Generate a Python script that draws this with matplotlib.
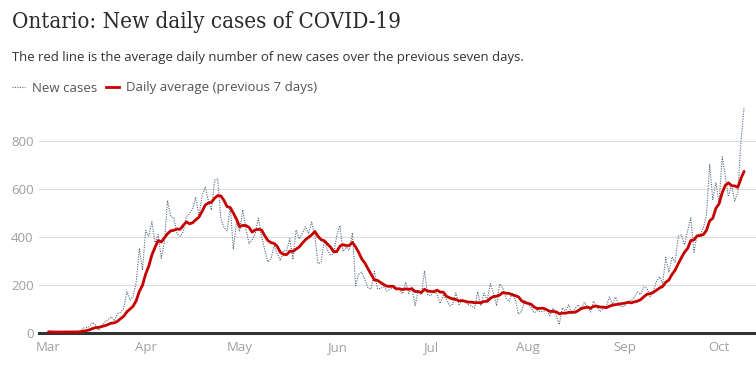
import numpy as np
import pandas as pd
import matplotlib
matplotlib.use("Agg")
import matplotlib.pyplot as plt
import matplotlib.dates as mdates
from matplotlib.lines import Line2D

# Daily new cases in Ontario, 1 Mar - 9 Oct 2020
mar = [3, 2, 1, 2, 3, 3, 1, 4, 2, 2,
       5, 18, 20, 24, 42, 32, 8, 29, 44, 53,
       66, 48, 78, 85, 100, 170, 135, 151, 211, 351, 260]
apr = [426, 401, 462, 375, 408, 309, 379, 550, 483, 478,
       411, 401, 421, 483, 494, 514, 564, 485, 568, 606,
       551, 510, 634, 640, 476, 437, 424, 525, 347, 459]
may = [421, 511, 434, 370, 387, 412, 477, 399, 346, 294,
       308, 361, 329, 300, 341, 340, 391, 304, 427, 390,
       413, 441, 412, 460, 404, 287, 292, 383, 344, 323, 326]
jun = [404, 446, 338, 356, 344, 415, 195, 243, 251, 220,
       185, 182, 255, 182, 184, 190, 173, 180, 186, 178,
       184, 161, 210, 163, 189, 111, 175, 157, 257, 157]
jul = [153, 178, 157, 121, 154, 138, 112, 118, 165, 116,
       129, 130, 116, 111, 102, 170, 111, 164, 135, 203,
       165, 111, 203, 185, 144, 129, 165, 137, 76, 89, 134]
aug = [121, 104, 82, 91, 86, 88, 95, 70, 102, 72,
       33, 103, 90, 115, 78, 99, 115, 100, 125, 108,
       85, 131, 105, 87, 100, 108, 148, 118, 148, 116, 106]
sep = [112, 132, 133, 148, 169, 158, 190, 185, 149, 170,
       213, 232, 204, 313, 251, 315, 293, 401, 407, 365,
       425, 478, 335, 409, 409, 435, 491, 700, 554, 625]
oct_ = [538, 732, 653, 566, 615, 548, 583, 797, 939]

new_cases = mar + apr + may + jun + jul + aug + sep + oct_
dates = pd.date_range("2020-03-01", periods=len(new_cases), freq="D")
cases = pd.Series(new_cases, index=dates)
# red line: average over the previous seven days
avg7 = cases.rolling(7, min_periods=1).mean()

y_ticks = [0, 200, 400, 600, 800]
month_labels = ["Mar", "Apr", "May", "Jun", "Jul", "Aug", "Sep", "Oct"]

RED = "#c70000"
DOTS = "#52697e"
GREY = "#a0a0a0"
TEXT = "#333333"

W, H = 756, 373
fig = plt.figure(figsize=(W / 100, H / 100), dpi=100)
plt.rcParams["font.family"] = ["Open Sans", "DejaVu Sans"]

# axes box in pixels: left 39, right 756, bottom at y=332.5, top at y=100
ax = fig.add_axes([39 / W, (H - 332.5) / H, (W - 39) / W, (332.5 - 100) / H])

x0 = mdates.date2num(pd.Timestamp("2020-03-01"))
ax.set_xlim(x0 - 3.03, x0 + 225.8)
ax.set_ylim(0, 969)

ax.plot(dates, cases.values, color=DOTS, lw=0.8, ls=(0, (1, 1.2)), clip_on=False, zorder=3)
ax.plot(dates, avg7.values, color=RED, lw=2.0, solid_capstyle="round", clip_on=False, zorder=4)

for v in y_ticks[1:]:
    ax.axhline(v, color="#dcdcdc", lw=0.8, zorder=1)
ax.axhline(0, color="#333333", lw=2.2, zorder=2, clip_on=False)

for s in ax.spines.values():
    s.set_visible(False)
ax.set_yticks(y_ticks)
ax.set_yticklabels([str(v) for v in y_ticks], color=GREY, fontsize=9.5)
ax.tick_params(axis="y", length=0, pad=4)

month_starts = pd.date_range("2020-03-01", periods=len(month_labels), freq="MS")
ax.set_xticks(month_starts)
ax.set_xticklabels(month_labels, color=GREY, fontsize=9.5)
ax.tick_params(axis="x", length=0, pad=6)

fig.text(12 / W, 1 - 22 / H, "Ontario: New daily cases of COVID-19",
         fontsize=16, color="#2a2a2a", family=["DejaVu Serif"], fontstretch="condensed",
         va="center")
fig.text(12 / W, 1 - 57 / H,
         "The red line is the average daily number of new cases over the previous seven days.",
         fontsize=9.45, color=TEXT, va="center")

handles = [Line2D([], [], color=DOTS, lw=0.8, ls=(0, (1, 1.2))),
           Line2D([], [], color=RED, lw=2.0)]
fig.legend(handles, ["New cases", "Daily average (previous 7 days)"],
           loc="center left", bbox_to_anchor=(0 / W, 1 - 88 / H), ncol=2,
           frameon=False, fontsize=9.5, handlelength=1.0, handletextpad=0.5,
           columnspacing=0.7, labelcolor="#555555")

fig.savefig("out.png", dpi=100)
